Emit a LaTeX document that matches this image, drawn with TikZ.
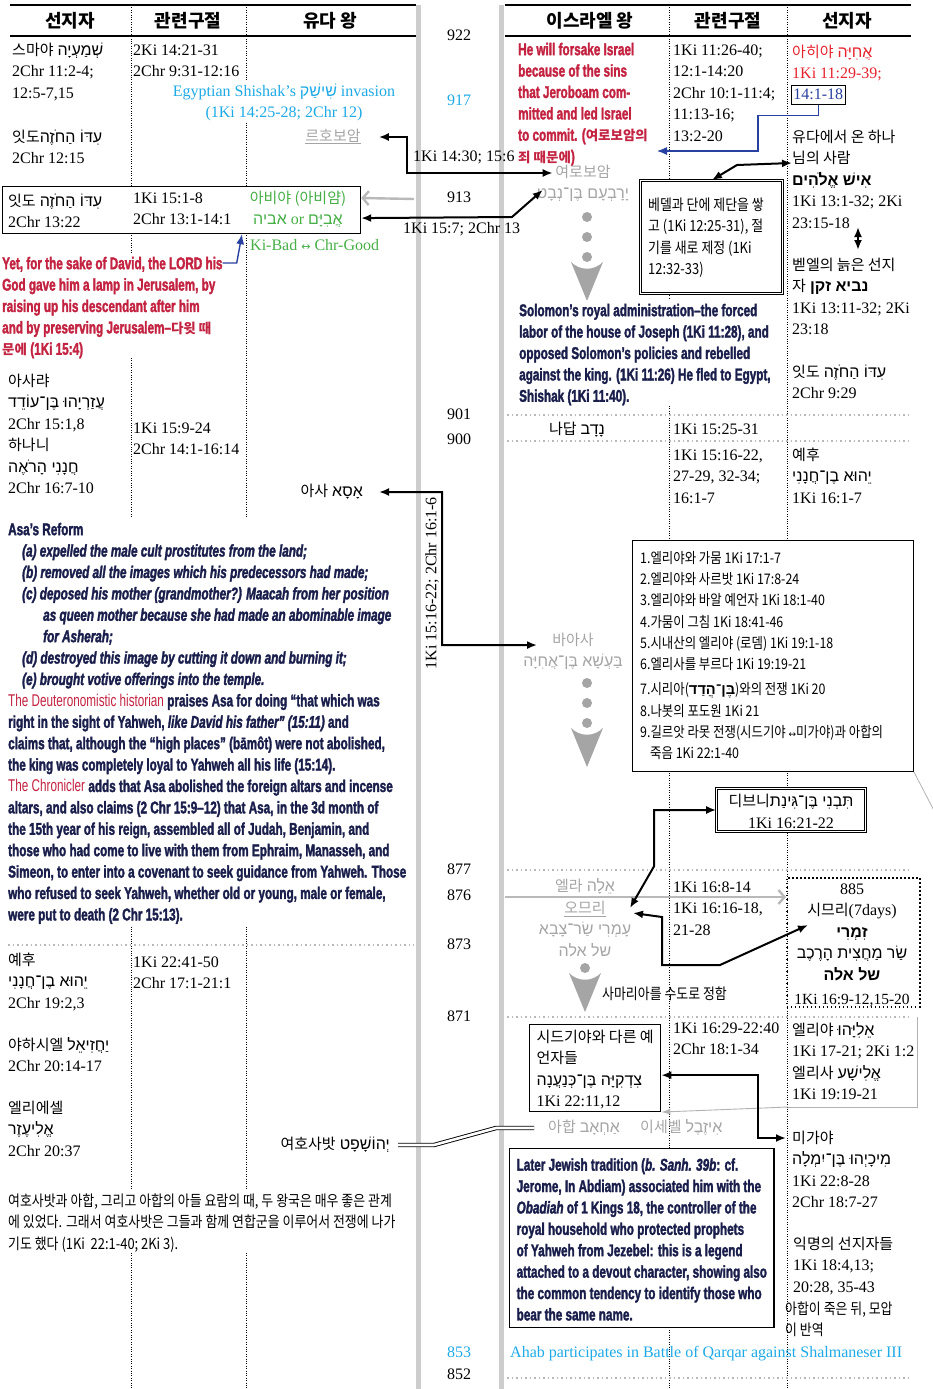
\documentclass[tikz,border=0pt]{standalone}
\usepackage{fontspec}
\usetikzlibrary{arrows.meta}
\setmainfont{Liberation Serif}
\newfontfamily\krfont{Noto Sans CJK KR}
\newfontfamily\krcond[FakeStretch=0.85]{Noto Sans CJK KR}
\newfontfamily\hebfont[Script=Hebrew]{Liberation Sans}
\newfontfamily\cndfont[FakeStretch=0.69]{Liberation Sans}
\newfontfamily\cndbf[FakeStretch=0.69,FakeBold=1.8]{Liberation Sans Bold}
\newfontfamily\cndbfit[FakeStretch=0.69,FakeBold=1.8]{Liberation Sans Bold Italic}
\newfontfamily\symfont{DejaVu Sans}
\TeXXeTstate=1

\definecolor{skyc}{RGB}{30,170,230}
\definecolor{grn}{RGB}{70,175,70}
\definecolor{crim}{RGB}{195,35,65}
\definecolor{redp}{RGB}{230,35,45}
\definecolor{navy}{RGB}{25,30,75}
\definecolor{nameg}{RGB}{165,165,165}
\definecolor{linkb}{RGB}{40,65,160}
\definecolor{barg}{RGB}{205,205,205}

\newcommand{\mainfs}{\fontsize{16}{21.5}\selectfont}
\newcommand{\kr}[1]{{\krfont\fontsize{15}{21.5}\selectfont #1}}
\newcommand{\krb}[1]{{\krfont\bfseries\fontsize{13.5}{21.4}\selectfont #1}}
\newcommand{\hb}[1]{{\hebfont\beginR #1\endR}}
\newcommand{\bi}[1]{{\cndbfit #1}}
\newcommand{\rg}[1]{{\cndfont #1}}
\newcommand{\lr}{{\symfont\fontsize{11}{12}\selectfont ↔}}

\tikzset{
  walker/.pic={
    \fill[nameg] (0,0) circle (5pt);
    \fill[nameg] (-16,5) .. controls (-7,14) and (7,14) .. (16,5) -- (0,44) -- cycle;
  }
}

\begin{document}
\begin{tikzpicture}[x=1pt,y=-1pt,
  cell/.style={anchor=north west,inner sep=0pt,align=left,font=\mainfs},
  one/.style={inner sep=0pt,font=\mainfs,text height=15pt,text depth=6.5pt},
  yr/.style={one,anchor=center},
  hdr/.style={inner sep=0pt,font=\krfont\bfseries\fontsize{18}{20}\selectfont},
  gname/.style={inner sep=0pt,align=center,anchor=north,font=\mainfs,text=nameg},
  note/.style={anchor=north west,inner sep=0pt,align=left,text=navy,
    font=\cndbf\fontsize{17}{21.4}\selectfont},
  knote/.style={anchor=north west,inner sep=0pt,align=left,
    font=\krcond\fontsize{15.2}{21.5}\selectfont},
  sep/.style={line width=0.7pt,dash pattern=on 0.8pt off 1.6pt},
  rowsep/.style={draw=gray!55,line width=1.5pt,dash pattern=on 1.5pt off 3pt},
  link/.style={line width=2pt,{Latex[length=10pt,width=8pt]}-{Latex[length=10pt,width=8pt]}},
  graylink/.style={draw=gray!55,line width=2.4pt,-{Straight Barb[length=6pt,width=14pt]}},
  bluelink/.style={draw=linkb,line width=1.4pt,-{Latex[length=10pt,width=8pt]}},
  frame/.style={draw,line width=1.2pt,inner sep=0pt},
  dframe/.style={draw,double,double distance=1.6pt,line width=0.6pt}]

\useasboundingbox (0,0) rectangle (932,1389);

% column bars, rules and separators
\fill[barg] (416,5) rectangle (421,1389);
\fill[barg] (499,5) rectangle (504,1389);
\draw[line width=2pt] (10,5) -- (416,5) (10,36) -- (416,36);
\draw[line width=2pt] (505,5) -- (911,5) (505,36) -- (911,36);
\draw[sep] (131,5) -- (131,1389) (246,5) -- (246,1389);
\draw[sep] (669,5) -- (669,1389) (787,5) -- (787,1389);
\draw[rowsep] (8,945) -- (414,945);
\foreach \yy in {415,441,870,1017,1378}
  \draw[rowsep] (507,\yy) -- (912,\yy);

% headers
\node[hdr] (hProphL) at (70,21) {선지자};
\node[hdr] (hRefL) at (188,21) {관련구절};
\node[hdr] (hKingJ) at (330,21) {유다 왕};
\node[hdr] (hKingI) at (590,21) {이스라엘 왕};
\node[hdr] (hRefR) at (728,21) {관련구절};
\node[hdr] (hProphR) at (847,21) {선지자};

% years
\foreach \yv/\yy in {922/36,913/198,901/415,900/440,877/870,876/896,873/945,871/1017,852/1375}
  \node[yr] (yr\yv) at (459,\yy) {\yv};
\node[yr,text=skyc] (yr917) at (459,101) {917};
\node[yr,text=skyc] (yr853) at (459,1353) {853};

% Judah: Rehoboam
\node[cell] (shemaiah) at (12,40) {\strut\kr{스마야} \hb{שְׁמַעְיָה}\\2Chr 11:2-4;\\12:5-7,15};
\node[cell] (rehoRef) at (133,40) {\strut 2Ki 14:21-31\\2Chr 9:31-12:16};
\node[cell,anchor=north,align=center,text=skyc,fill=white] (shishak) at (284,81)
  {\strut Egyptian Shishak’s \hb{שִׁישַׁק} invasion\\(1Ki 14:25-28; 2Chr 12)};
\node[cell] (iddoA) at (12,127) {\strut\kr{잇도}\hb{עִדּוֹ הַחֹזֶה}\\2Chr 12:15};
\node[one,text=nameg] (rehob) at (333,137) {\kr{\underline{르호보암}}};

% Judah: Abijah
\node[frame,fill=white,anchor=north west,minimum width=358pt,minimum height=47pt] (abiBox) at (2,186) {};
\node[cell] (iddoB) at (8,191) {\strut\kr{잇도} \hb{עִדּוֹ הַחֹזֶה}\\2Chr 13:22};
\node[cell] (abiRef) at (133,188) {\strut 1Ki 15:1-8\\2Chr 13:1-14:1};
\node[cell,anchor=north,align=center,text=grn] (abijah) at (298,188)
  {\strut\kr{아비야 (아비얌)}\\\hb{אביה} or \hb{אֲבִיָּם}};
\node[one,anchor=west,text=grn] (kibad) at (250,246) {Ki-Bad \lr\ Chr-Good};
\node[note,text=crim,fill=white] (davidLamp) at (2,254)
  {\strut Yet, for the sake of David, the LORD his\\God gave him a lamp in Jerusalem, by\\raising up his descendant after him\\and by preserving Jerusalem–\krb{다윗 때}\\\krb{문에} (1Ki 15:4)};

% Judah: Asa
\node[cell] (azariah) at (8,371)
  {\strut\kr{아사랴}\\\hb{עֲזַרְיָהוּ בֶּן־עוֹדֵד}\\2Chr 15:1,8\\\kr{하나니}\\\hb{חֲנָנִי הָרֹאֶה}\\2Chr 16:7-10};
\node[cell] (asaRef) at (133,418) {\strut 1Ki 15:9-24\\2Chr 14:1-16:14};
\node[one,anchor=east] (asa) at (363,492) {\kr{아사} \hb{אָסָא}};
\node[note,fill=white,inner sep=1pt] (reform) at (7,519)
  {\strut Asa’s Reform\\
   \hspace*{14pt}\bi{(a) expelled the male cult prostitutes from the land;}\\
   \hspace*{14pt}\bi{(b) removed all the images which his predecessors had made;}\\
   \hspace*{14pt}\bi{(c) deposed his mother (grandmother?) Maacah from her position}\\
   \hspace*{35pt}\bi{as queen mother because she had made an abominable image}\\
   \hspace*{35pt}\bi{for Asherah;}\\
   \hspace*{14pt}\bi{(d) destroyed this image by cutting it down and burning it;}\\
   \hspace*{14pt}\bi{(e) brought votive offerings into the temple.}\\
   {\color{crim}\rg{The Deuteronomistic historian}} praises Asa for doing “that which was\\
   right in the sight of Yahweh, \bi{like David his father” (15:11)} and\\
   claims that, although the “high places” (bāmôt) were not abolished,\\
   the king was completely loyal to Yahweh all his life (15:14).\\
   {\color{crim}\rg{The Chronicler}} adds that Asa abolished the foreign altars and incense\\
   altars, and also claims (2 Chr 15:9–12) that Asa, in the 3d month of\\
   the 15th year of his reign, assembled all of Judah, Benjamin, and\\
   those who had come to live with them from Ephraim, Manasseh, and\\
   Simeon, to enter into a covenant to seek guidance from Yahweh. Those\\
   who refused to seek Yahweh, whether old or young, male or female,\\
   were put to death (2 Chr 15:13).};

% Judah: Jehoshaphat
\node[cell] (jehuA) at (8,950) {\strut\kr{예후}\\\hb{יֵהוּא בֶן־חֲנָנִי}\\2Chr 19:2,3};
\node[cell] (jahaziel) at (8,1035) {\strut\kr{야하시엘} \hb{יַחֲזִיאֵל}\\2Chr 20:14-17};
\node[cell] (eliezer) at (8,1098) {\strut\kr{엘리에셀}\\\hb{אֱלִיעֶזֶר}\\2Chr 20:37};
\node[cell] (jehoRef) at (133,952) {\strut 1Ki 22:41-50\\2Chr 17:1-21:1};
\node[one,anchor=east] (jehosh) at (390,1145) {\kr{여호사밧} \hb{יְהוֹשָׁפָט}};
\node[knote,fill=white,inner sep=1pt] (alliance) at (7,1190)
  {\strut 여호사밧과 아합, 그리고 아합의 아들 요람의 때, 두 왕국은 매우 좋은 관계\\에 있었다. 그래서 여호사밧은 그들과 함께 연합군을 이루어서 전쟁에 나가\\기도 했다 (1Ki~~22:1-40; 2Ki 3).};

% Israel: Jeroboam
\node[note,text=crim] (sins) at (518,40)
  {\strut He will forsake Israel\\because of the sins\\that Jeroboam com-\\mitted and led Israel\\to commit. (\krb{여로보암의}\\\krb{죄 때문에})};
\node[gname] (jerob) at (583,162) {\strut\kr{여로보암}\\\hb{יָרָבְעָם בֶּן־נְבָט}};
\node[cell] (jeroRef) at (673,40) {\strut 1Ki 11:26-40;\\12:1-14:20\\2Chr 10:1-11:4;\\11:13-16;\\13:2-20};
\node[cell,text=redp] (ahijah) at (792,42) {\strut\kr{아히야} \hb{אֲחִיָּה}\\1Ki 11:29-39;};
\node[draw,line width=0.8pt,inner sep=2pt,anchor=north west,font=\mainfs,text=linkb,
  text height=12pt,text depth=3pt] (ahiRef) at (791,85) {14:1-18};
\node[cell] (manGod) at (792,127)
  {\strut\kr{유다에서 온 하나}\\\kr{님의 사람}\\{\bfseries\hb{אִישׁ אֱלֹהִים}}\\1Ki 13:1-32; 2Ki\\23:15-18};
\node[dframe,fill=white,anchor=north west,minimum width=142pt,minimum height=113pt] (bethel) at (640,180) {};
\node[knote] (bethelTxt) at (648,195) {\strut 베델과 단에 제단을 쌓\\고 (1Ki 12:25-31), 절\\기를 새로 제정 (1Ki\\12:32-33)};
\foreach \dy in {217,237}
  \fill[nameg] (587,\dy) circle (5pt);
\pic at (587,257) {walker};
\node[note,fill=white,inner sep=1pt] (solomon) at (518,300)
  {\strut Solomon’s royal administration–the forced\\labor of the house of Joseph (1Ki 11:28), and\\opposed Solomon’s policies and rebelled\\against the king. (1Ki 11:26) He fled to Egypt,\\Shishak (1Ki 11:40).};
\node[cell] (oldProph) at (792,255) {\strut\kr{벧엘의 늙은 선지}\\\kr{자} {\bfseries\hb{נביא זקן}}\\1Ki 13:11-32; 2Ki\\23:18};
\node[cell] (iddoC) at (792,362) {\strut\kr{잇도} \hb{עִדּוֹ הַחֹזֶה}\\2Chr 9:29};

% Israel: Nadab, Baasha
\node[one] (nadab) at (577,430) {\kr{나답} \hb{נָדָב}};
\node[one,anchor=west] (nadabRef) at (673,430) {1Ki 15:25-31};
\node[cell] (baashaRef) at (673,445) {\strut 1Ki 15:16-22,\\27-29, 32-34;\\16:1-7};
\node[cell] (jehuB) at (792,445) {\strut\kr{예후}\\\hb{יֵהוּא בֶן־חֲנָנִי}\\1Ki 16:1-7};
\node[frame,line width=1pt,fill=white,anchor=north west,minimum width=281pt,minimum height=231pt] (elijahBox) at (632,540) {};
\node[knote,font=\krcond\fontsize{14.6}{21.3}\selectfont] (elijahList) at (640,548)
  {\strut 1.엘리야와 가뭄 1Ki 17:1-7\\2.엘리야와 사르밧 1Ki 17:8-24\\3.엘리야와 바알 예언자 1Ki 18:1-40\\4.가뭄이 그침 1Ki 18:41-46\\5.시내산의 엘리야 (로뎀) 1Ki 19:1-18\\6.엘리사를 부르다 1Ki 19:19-21\\[4pt]
   7.시리아({\bfseries\hb{בֶּן־הֲדַד}})와의 전쟁 1Ki 20\\8.나봇의 포도원 1Ki 21\\9.길르앗 라못 전쟁(시드기야 {\symfont\fontsize{9}{10}\selectfont ↔}미가야)과 아합의\\\hspace*{10pt}죽음 1Ki 22:1-40};
\draw[gray!60,line width=0.8pt] (elijahBox.south east) -- ++(29,56);
\node[gname] (baasha) at (573,630) {\strut\kr{바아사}\\\hb{בַּעְשָׁא בֶּן־אֲחִיָּה}};
\foreach \dy in {683,703}
  \fill[nameg] (587,\dy) circle (5pt);
\pic at (587,723) {walker};
\node[one,rotate=90] (asaWar) at (432,583) {1Ki 15:16-22; 2Chr 16:1-6};

% Israel: Elah, Zimri, Omri, Tibni
\node[dframe,fill=white,font=\mainfs,align=center,minimum width=149pt,minimum height=43pt,inner sep=2pt] (tibni) at (791,810)
  {\strut\kr{디브니}\hb{תִּבְנִי בֶּן־גִּינַת}\\1Ki 16:21-22};
\node[one,text=nameg] (elah) at (585,887) {\kr{엘라} \hb{אֵלָה}};
\node[draw,line width=1.6pt,dash pattern=on 1.6pt off 2.4pt,anchor=north west,
  minimum width=133pt,minimum height=129pt] (zimri) at (786,877) {};
\node[cell,anchor=north,align=center] (zimriTxt) at (852,879)
  {\strut 885\\\kr{시므리}(7days)\\{\bfseries\hb{זִמְרִי}}\\\hb{שַׂר מַחֲצִית הָרֶכֶב}\\{\bfseries\hb{של אלה}}\\[3pt]{\fontsize{15.5}{20}\selectfont 1Ki 16:9-12,15-20}};
\node[gname] (omri) at (585,898) {\strut\kr{\underline{오므리}}\\\hb{עָמְרִי שַׂר־צָבָא}\\\hb{של אלה}};
\node[cell] (omriRef) at (673,877) {\strut 1Ki 16:8-14\\1Ki 16:16-18,\\21-28};
\pic at (585,968) {walker};
\node[knote,anchor=west] (samaria) at (602,994) {사마리아를 수도로 정함};

% Israel: Ahab
\node[frame,line width=1.3pt,fill=white,anchor=north west,align=left,font=\mainfs,inner sep=2.5pt,
  minimum width=131pt] (zedek) at (529,1024)
  {\strut\kr{시드기야와 다른 예}\\\kr{언자들}\\\hb{צִדְקִיָּה בֶּן־כְּנַעֲנָה}\\1Ki 22:11,12};
\node[cell] (ahabRef) at (673,1018) {\strut 1Ki 16:29-22:40\\2Chr 18:1-34};
\node[cell] (elijahB) at (792,1020) {\strut\kr{엘리야} \hb{אֵלִיָּהוּ}\\1Ki 17-21; 2Ki 1:2\\\kr{엘리사} \hb{אֱלִישָׁע}\\1Ki 19:19-21};
\node[one,anchor=west,text=nameg] (ahab) at (548,1128) {\kr{아합} \hb{אַחְאָב}};
\node[one,anchor=west,text=nameg] (jezebel) at (640,1128) {\kr{이세벨} \hb{אִיזֶבֶל}};
\node[note,draw=black,line width=1.3pt,fill=white,inner sep=7pt] (obadiah) at (509,1148)
  {\strut Later Jewish tradition (\bi{b. Sanh. 39b}: cf.\\Jerome, In Abdiam) associated him with the\\\bi{Obadiah} of 1 Kings 18, the controller of the\\royal household who protected prophets\\of Yahweh from Jezebel: this is a legend\\attached to a devout character, showing also\\the common tendency to identify those who\\bear the same name.};
\node[cell] (micaiah) at (792,1128) {\strut\kr{미가야}\\\hb{מִיכָיְהוּ בֶּן־יִמְלָה}\\1Ki 22:8-28\\2Chr 18:7-27};
\node[cell] (anon) at (793,1234) {\strut\kr{익명의 선지자들}\\1Ki 18:4,13;\\20:28, 35-43};
\node[knote] (moab) at (785,1299) {\strut 아합이 죽은 뒤, 모압\\이 반역};
\node[one,anchor=west,text=skyc] (qarqar) at (510,1353) {Ahab participates in Battle of Qarqar against Shalmaneser III};

% arrow labels
\node[one,anchor=west] (lblA) at (413,157) {1Ki 14:30; 15:6};
\node[one,anchor=west] (lblB) at (403,229) {1Ki 15:7; 2Chr 13};

% connectors
\draw[link] ([xshift=18pt]rehob.east) -- ++(28,0) |- ([xshift=16pt,yshift=-11pt]jerob.north west);
\draw[graylink] (414,199) -- (abiBox.east |- yr913);
\draw[link] ([yshift=-8pt]abiBox.east) -- (512,217) -- ([xshift=6pt,yshift=-28pt]jerob.north west);
\draw[bluelink] ([yshift=-9pt]davidLamp.north east) -- ++(14,0) -- ([xshift=240pt]abiBox.south west);
\draw[bluelink,line width=1.1pt] (ahiRef.south) -- ++(0,11) -| (758,151) -- (657,151);
\draw[link] ([xshift=72pt]bethel.north west) -- ++(25,-15) -- ([yshift=-36pt]manGod.north west);
\draw[link] (858,227) -- (858,250);
\draw[link] ([xshift=16pt]asa.east) -| (442,645) -- ([xshift=14pt,yshift=5pt]baasha.west);
\draw[graylink] (505,897) -- ([yshift=-20pt]zimri.north west);
\draw[link] (tibni.west) -- ++(-62,0) -- ++(0,56) -- (630,908);
\draw[link] (633,913) -- (662,917) -- (662,965) -- (720,965) -- (808,925);
\draw[gray!60,line width=0.9pt] (917,1017) -- (917,1107) -- (788,1107);
\draw[gray!60,line width=0.9pt,-{Latex[length=9pt,width=6pt]}] (788,1107) -- ([xshift=-20pt,yshift=5pt]jezebel.north);
\draw[link] ([yshift=-7pt]zedek.east) -- ++(97,0) |- ([xshift=-6pt,yshift=-10pt]micaiah.north west);
\draw[double,double distance=2.6pt,line width=0.9pt] ([xshift=8pt]jehosh.east) -- ++(36,0)
  -- ([xshift=-52pt]ahab.west) -- ([xshift=-14pt]ahab.west);
\end{tikzpicture}
\end{document}
